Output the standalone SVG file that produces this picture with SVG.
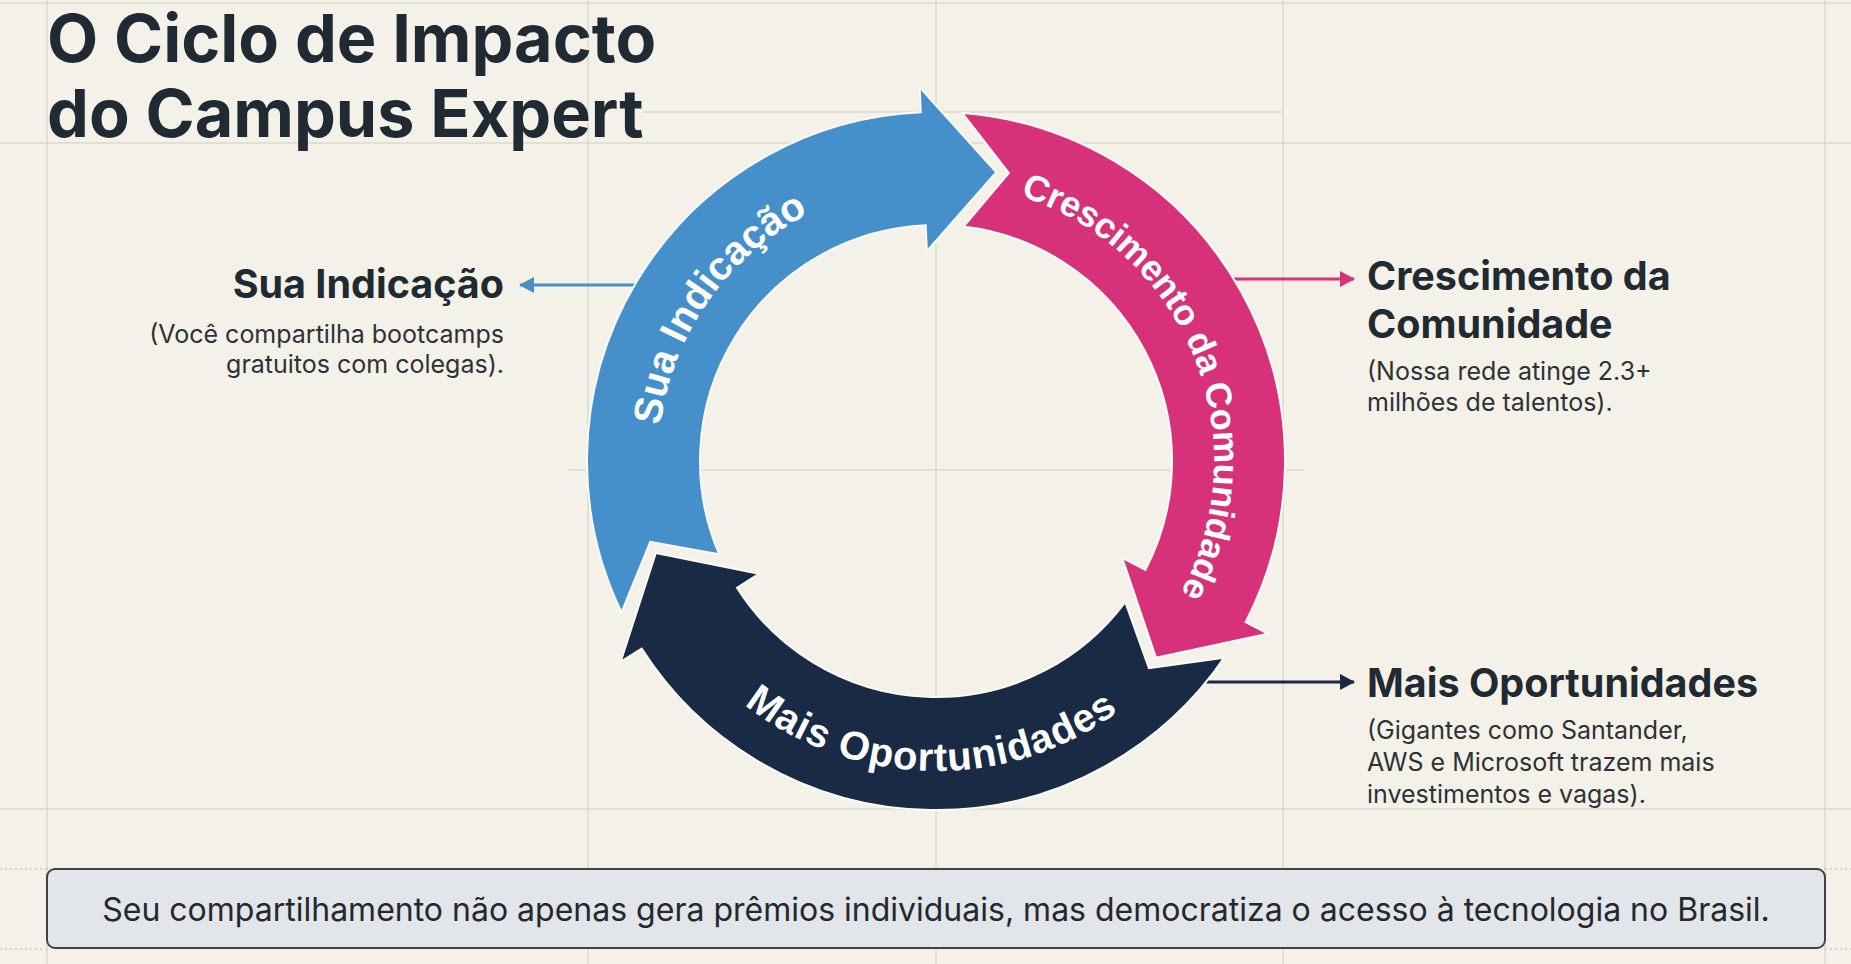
<svg xmlns="http://www.w3.org/2000/svg" xmlns:xlink="http://www.w3.org/1999/xlink" width="1851" height="964" viewBox="0 0 1851 964">
<style>
.grid{stroke:#dcd8cd;stroke-width:1.5;fill:none}
.dot{stroke:#cdc9be;stroke-width:1.5;stroke-dasharray:2 3;fill:none}
.arrow{stroke:#fbfaf6;stroke-width:2;stroke-linejoin:miter}
.arc-label{font-family:"Liberation Sans",Arial,sans-serif;font-weight:700;fill:#ffffff}
.title{font-family:Inter,"Noto Sans",sans-serif;font-weight:700;font-size:66.5px;fill:#1f2a33}
.head{font-family:Inter,"Noto Sans",sans-serif;font-weight:700;font-size:39.5px;fill:#1f2a33}
.sub{font-family:Inter,"Noto Sans",sans-serif;font-size:25px;fill:#2c3238}
.conn{stroke-width:3;fill:none}
.note{font-family:Inter,"Noto Sans",sans-serif;font-size:32px;fill:#24292e}
</style>
<defs>
<path id="arrowShape" d="M 621.52 612.35 A 349 349 0 0 1 920.78 112.33 L 919.69 87.36 L 996.33 172.23 L 926.84 251.20 L 925.71 225.22 A 236 236 0 0 0 719.25 554.35 L 650.22 541.87 Z"/>
<path id="tpBlue" d="M 662.22 509.27 A 278 278 0 0 1 887.73 187.22"/>
<path id="tpPink" d="M 1021.91 196.61 A 278 278 0 0 1 1181.46 591.51"/>
<path id="tpNavy" d="M 713.0 676.34 A 310 310 0 0 0 1151.34 684.0"/>
<marker id="mBlue" markerWidth="16" markerHeight="16" refX="14" refY="8" orient="auto" markerUnits="userSpaceOnUse"><path d="M0,0 L15,8 L0,16 Z" fill="#4a8ec6"/></marker>
<marker id="mPink" markerWidth="16" markerHeight="16" refX="14" refY="8" orient="auto" markerUnits="userSpaceOnUse"><path d="M0,0 L15,8 L0,16 Z" fill="#d7317a"/></marker>
<marker id="mNavy" markerWidth="16" markerHeight="16" refX="14" refY="8" orient="auto" markerUnits="userSpaceOnUse"><path d="M0,0 L15,8 L0,16 Z" fill="#192a44"/></marker>
</defs>
<rect x="0" y="0" width="1851" height="964" fill="#f4f1e8"/>
<g id="grid">
<line class="grid" x1="0" y1="3" x2="1851" y2="3"/>
<line class="grid" x1="643" y1="112" x2="1283" y2="112"/>
<line class="grid" x1="0" y1="143" x2="1851" y2="143"/>
<line class="grid" x1="569" y1="470" x2="1304" y2="470"/>
<line class="grid" x1="0" y1="809" x2="1851" y2="809"/>
<line class="grid" x1="47" y1="0" x2="47" y2="964"/>
<line class="grid" x1="588" y1="0" x2="588" y2="964"/>
<line class="grid" x1="936" y1="0" x2="936" y2="964"/>
<line class="grid" x1="1283" y1="0" x2="1283" y2="964"/>
<line class="grid" x1="1825" y1="0" x2="1825" y2="964"/>
<line class="dot" x1="0" y1="869" x2="47" y2="869"/>
<line class="dot" x1="0" y1="949" x2="47" y2="949"/>
<line class="dot" x1="1825" y1="869" x2="1851" y2="869"/>
<line class="dot" x1="1825" y1="949" x2="1851" y2="949"/>
</g>
<g id="title">
<text class="title" x="47" y="62">O Ciclo de Impacto</text>
<text class="title" x="47" y="137">do Campus Expert</text>
</g>
<g id="connectors">
<line class="conn" x1="642" y1="285" x2="520" y2="285" stroke="#4a8ec6" marker-end="url(#mBlue)"/>
<line class="conn" x1="1226" y1="279" x2="1354" y2="279" stroke="#d7317a" marker-end="url(#mPink)"/>
<line class="conn" x1="1198" y1="682" x2="1354" y2="682" stroke="#192a44" marker-end="url(#mNavy)"/>
</g>
<g id="node-sua-indicacao">
<use xlink:href="#arrowShape" href="#arrowShape" class="arrow" fill="#4590cb"/>
<text class="arc-label" font-size="40"><textPath xlink:href="#tpBlue" href="#tpBlue" startOffset="50%" text-anchor="middle">Sua Indicação</textPath></text>
</g>
<g id="node-crescimento">
<use xlink:href="#arrowShape" href="#arrowShape" class="arrow" fill="#d7317a" transform="rotate(120 936 461)"/>
<text class="arc-label" font-size="36" letter-spacing="-0.4"><textPath xlink:href="#tpPink" href="#tpPink" startOffset="50%" text-anchor="middle">Crescimento da Comunidade</textPath></text>
</g>
<g id="node-oportunidades">
<use xlink:href="#arrowShape" href="#arrowShape" class="arrow" fill="#192a44" transform="rotate(240 936 461)"/>
<text class="arc-label" font-size="40" letter-spacing="1"><textPath xlink:href="#tpNavy" href="#tpNavy" startOffset="50%" text-anchor="middle">Mais Oportunidades</textPath></text>
</g>
<g id="label-sua-indicacao" text-anchor="end">
<text class="head" x="504" y="298">Sua Indicação</text>
<text class="sub" x="504" y="343">(Você compartilha bootcamps</text>
<text class="sub" x="504" y="373">gratuitos com colegas).</text>
</g>
<g id="label-crescimento">
<text class="head" x="1367" y="289.5">Crescimento da</text>
<text class="head" x="1367" y="337.5">Comunidade</text>
<text class="sub" x="1367" y="380">(Nossa rede atinge 2.3+</text>
<text class="sub" x="1367" y="411">milhões de talentos).</text>
</g>
<g id="label-oportunidades">
<text class="head" x="1367" y="697">Mais Oportunidades</text>
<text class="sub" x="1367" y="739">(Gigantes como Santander,</text>
<text class="sub" x="1367" y="771">AWS e Microsoft trazem mais</text>
<text class="sub" x="1367" y="803">investimentos e vagas).</text>
</g>
<g id="note">
<rect x="47" y="869" width="1778" height="79" rx="8" fill="#e2e5e9" stroke="#3d4349" stroke-width="2"/>
<text class="note" x="936" y="921" text-anchor="middle">Seu compartilhamento não apenas gera prêmios individuais, mas democratiza o acesso à tecnologia no Brasil.</text>
</g>
</svg>
